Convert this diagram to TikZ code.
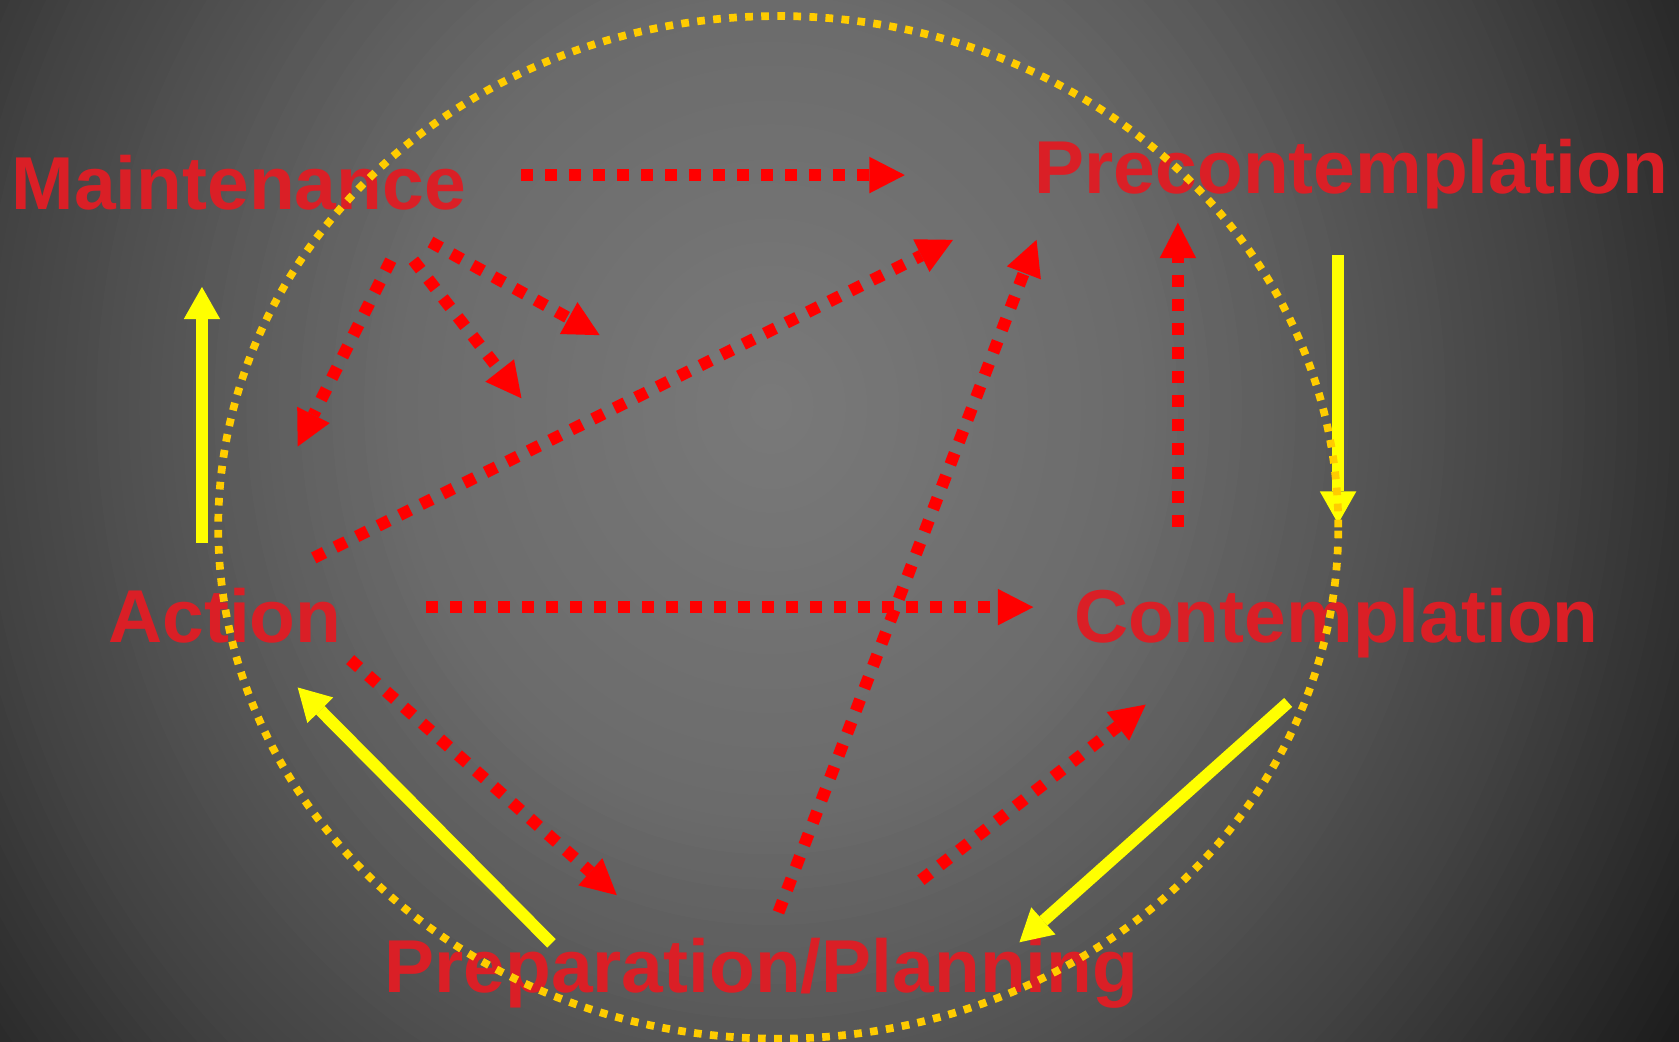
\documentclass[tikz,border=0pt]{standalone}
\usepackage{fontspec}
\setmainfont{Liberation Sans}
\usetikzlibrary{arrows.meta}
\definecolor{txtred}{RGB}{218,31,38}
\definecolor{arrred}{RGB}{255,0,0}
\definecolor{arryel}{RGB}{255,255,0}
\definecolor{ringyel}{RGB}{255,204,0}
\tikzset{
  lbl/.style={text=txtred, inner sep=0pt, anchor=base, font=\fontsize{70pt}{84pt}\selectfont\bfseries},
  redarrow/.style={draw=arrred, line width=11.2pt, dash pattern=on 11.2pt off 11.2pt,
    -{Triangle[length=33pt,width=34pt,line width=0pt]}},
  yelarrow/.style={draw=arryel, line width=11.2pt,
    -{Triangle[length=30pt,width=34pt,line width=0pt]}},
  ring/.style={draw=ringyel, line width=7.2pt, dash pattern=on 7.2pt off 7.8pt}
}
\begin{document}
\begin{tikzpicture}[x=1pt,y=-1pt]
\useasboundingbox (0,0) rectangle (1568,973);
\begin{scope}
  \clip (0,0) rectangle (1568,973);
  \fill[black!88] (0,0) rectangle (1568,973);
  \foreach \k in {140,...,1}{
    \pgfmathsetmacro{\rr}{\k/100}
    \pgfmathtruncatemacro{\gg}{\rr<=0.34 ? 122-14*\rr/0.34 :
      (\rr<=0.54 ? 108-20*(\rr-0.34)/0.2 :
      (\rr<=0.74 ? 88-22*(\rr-0.54)/0.2 :
      (\rr<=1.0 ? 66-36*(\rr-0.74)/0.26 : max(20,30-10*(\rr-1)/0.3))))}
    \definecolor{bgtmp}{RGB}{\gg,\gg,\gg}
    \fill[bgtmp] (720,380) ellipse [x radius=10*\k pt, y radius=11*\k pt];
  }
\end{scope}

% labels
\node[lbl] (maint) at (223,196) {Maintenance};
\node[lbl] (precon) at (1262,181) {Precontemplation};
\node[lbl] (action) at (210,600) {Action};
\node[lbl] (contem) at (1248,600) {Contemplation};
\node[lbl] (prep) at (711,927) {Preparation/Planning};

% endpoints
\coordinate (r1s) at (487,163.5);  \coordinate (r1e) at (845,163.5);
\coordinate (r2s) at (402,226);    \coordinate (r2e) at (560,313);
\coordinate (r3s) at (386,243);    \coordinate (r3e) at (487,372);
\coordinate (r4s) at (365,243);    \coordinate (r4e) at (278,417);
\coordinate (r5s) at (293,521);    \coordinate (r5e) at (890,224);
\coordinate (r6s) at (398,567);    \coordinate (r6e) at (965,567);
\coordinate (r7s) at (1100,492);   \coordinate (r7e) at (1100,208);
\coordinate (r8s) at (727,852);    \coordinate (r8e) at (968,224);
\coordinate (r9s) at (327,616);    \coordinate (r9e) at (576,836);
\coordinate (r10s) at (860,822);   \coordinate (r10e) at (1070,658);
\coordinate (yAs) at (188.6,507);  \coordinate (yAe) at (188.6,268);
\coordinate (yBs) at (1249.6,238); \coordinate (yBe) at (1249.6,489);
\coordinate (yCs) at (1203,656);   \coordinate (yCe) at (952,880);
\coordinate (yDs) at (515,881);    \coordinate (yDe) at (278,642);

% yellow solid arrows
\draw[yelarrow] (yAs) -- (yAe);
\draw[yelarrow] (yBs) -- (yBe);
\draw[yelarrow] (yCs) -- (yCe);
\draw[yelarrow] (yDs) -- (yDe);

% red dotted arrows
\draw[redarrow] (r1s) -- (r1e);
\draw[redarrow] (r2s) -- (r2e);
\draw[redarrow] (r3s) -- (r3e);
\draw[redarrow] (r4s) -- (r4e);
\draw[redarrow] (r5s) -- (r5e);
\draw[redarrow] (r6s) -- (r6e);
\draw[redarrow] (r7s) -- (r7e);
\draw[redarrow] (r8s) -- (r8e);
\draw[redarrow] (r9s) -- (r9e);
\draw[redarrow] (r10s) -- (r10e);

% dotted ring
\draw[ring] (726.8,492.5) ellipse [x radius=523pt, y radius=477.5pt];
\end{tikzpicture}
\end{document}
